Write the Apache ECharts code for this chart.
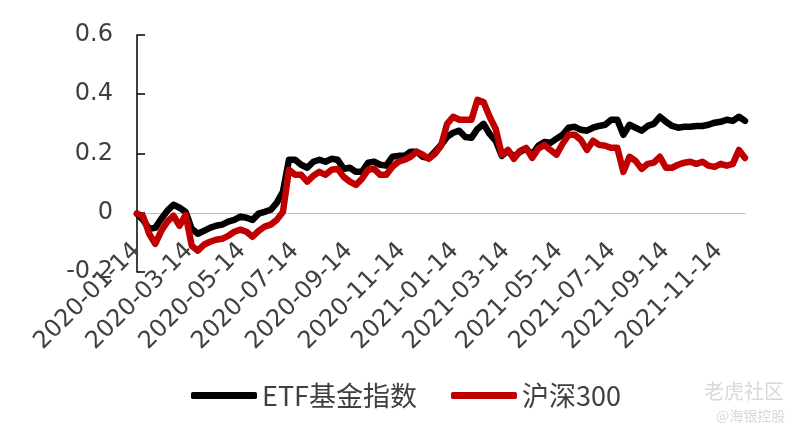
<!DOCTYPE html>
<html><head><meta charset="utf-8">
<script src="https://cdn.jsdelivr.net/npm/echarts@6/dist/echarts.min.js"></script>
<style>html,body{margin:0;padding:0;background:#fff}#c{width:800px;height:436px}</style>
</head><body><div id="c"></div>
<script>
const dates = [
'2020-01-14','2020-01-21','2020-01-28','2020-02-04','2020-02-11','2020-02-18','2020-02-25','2020-03-03','2020-03-10','2020-03-17',
'2020-03-24','2020-03-31','2020-04-07','2020-04-14','2020-04-21','2020-04-28','2020-05-05','2020-05-12','2020-05-19','2020-05-26',
'2020-06-02','2020-06-09','2020-06-16','2020-06-23','2020-06-30','2020-07-07','2020-07-14','2020-07-21','2020-07-28','2020-08-04',
'2020-08-11','2020-08-18','2020-08-25','2020-09-01','2020-09-08','2020-09-15','2020-09-22','2020-09-29','2020-10-06','2020-10-13',
'2020-10-20','2020-10-27','2020-11-03','2020-11-10','2020-11-17','2020-11-24','2020-12-01','2020-12-08','2020-12-15','2020-12-22',
'2020-12-29','2021-01-05','2021-01-12','2021-01-19','2021-01-26','2021-02-02','2021-02-09','2021-02-16','2021-02-23','2021-03-02',
'2021-03-09','2021-03-16','2021-03-23','2021-03-30','2021-04-06','2021-04-13','2021-04-20','2021-04-27','2021-05-04','2021-05-11',
'2021-05-18','2021-05-25','2021-06-01','2021-06-08','2021-06-15','2021-06-22','2021-06-29','2021-07-06','2021-07-13','2021-07-20',
'2021-07-27','2021-08-03','2021-08-10','2021-08-17','2021-08-24','2021-08-31','2021-09-07','2021-09-14','2021-09-21','2021-09-28',
'2021-10-05','2021-10-12','2021-10-19','2021-10-26','2021-11-02','2021-11-09','2021-11-16','2021-11-23','2021-11-30','2021-12-07',
'2021-12-14'
];
const etfIndex = [
-0.003,-0.024,-0.054,-0.051,-0.020,0.007,0.027,0.017,0.003,-0.054,
-0.071,-0.061,-0.051,-0.044,-0.040,-0.030,-0.024,-0.013,-0.017,-0.024,
-0.003,0.003,0.010,0.034,0.071,0.179,0.179,0.162,0.152,0.172,
0.179,0.172,0.182,0.179,0.148,0.152,0.138,0.138,0.169,0.172,
0.162,0.159,0.189,0.192,0.192,0.206,0.206,0.189,0.185,0.206,
0.229,0.256,0.270,0.277,0.256,0.253,0.283,0.300,0.266,0.243,
0.192,0.209,0.189,0.206,0.216,0.196,0.226,0.239,0.236,0.250,
0.263,0.287,0.290,0.280,0.277,0.287,0.293,0.297,0.314,0.314,
0.263,0.297,0.287,0.277,0.293,0.300,0.324,0.307,0.293,0.287,
0.290,0.290,0.293,0.293,0.297,0.304,0.307,0.314,0.310,0.324,
0.310
];
const hs300 = [
-0.003,-0.012,-0.071,-0.105,-0.061,-0.030,-0.010,-0.044,-0.007,-0.111,
-0.128,-0.108,-0.098,-0.091,-0.088,-0.078,-0.064,-0.057,-0.064,-0.081,
-0.061,-0.047,-0.040,-0.024,0.003,0.145,0.128,0.128,0.105,0.125,
0.138,0.128,0.145,0.148,0.121,0.105,0.094,0.115,0.145,0.148,
0.128,0.128,0.155,0.172,0.179,0.189,0.206,0.196,0.182,0.199,
0.226,0.300,0.324,0.314,0.314,0.314,0.381,0.374,0.324,0.283,
0.196,0.212,0.182,0.209,0.219,0.185,0.216,0.229,0.212,0.196,
0.233,0.263,0.263,0.246,0.212,0.243,0.229,0.226,0.219,0.219,
0.138,0.189,0.175,0.148,0.165,0.169,0.189,0.152,0.152,0.162,
0.169,0.172,0.165,0.172,0.159,0.155,0.165,0.159,0.165,0.212,
0.185
];
const tickLabels = ['2020-01-14','2020-03-14','2020-05-14','2020-07-14','2020-09-14','2020-11-14',
'2021-01-14','2021-03-14','2021-05-14','2021-07-14','2021-09-14','2021-11-14'];
const seriesNames = ['ETF基金指数','沪深300'];
const yTicks = [-0.2, 0, 0.2, 0.4, 0.6];

function dayTs(s){const p=s.split('-');return Date.UTC(+p[0],+p[1]-1,+p[2]);}
function fmtDay(v){const d=new Date(v);const m=d.getUTCMonth()+1, dd=d.getUTCDate();
  return d.getUTCFullYear()+'-'+(m<10?'0':'')+m+'-'+(dd<10?'0':'')+dd;}

const chart = echarts.init(document.getElementById('c'), null, {renderer:'canvas'});
chart.setOption({
  animation:false,
  backgroundColor:'#ffffff',
  grid:{left:137,right:55,top:35,bottom:164,containLabel:false},
  legend:{
    left:186, top:377, icon:'roundRect', itemWidth:66, itemHeight:7, itemGap:34,
    textStyle:{fontFamily:'Noto Sans CJK SC', fontSize:27, color:'#404040'},
    data:seriesNames
  },
  xAxis:{
    type:'value',
    min:dayTs(dates[0]), max:dayTs(dates[dates.length-1]),
    axisLine:{onZero:true, lineStyle:{color:'#bfbfbf', width:1}},
    axisTick:{show:false},
    splitLine:{show:false},
    axisLabel:{
      customValues: tickLabels.map(dayTs),
      rotate:45, margin:-25, fontFamily:'DejaVu Sans', fontSize:24, color:'#404040',
      formatter:function(v){return fmtDay(v);}
    }
  },
  yAxis:{
    type:'value', min:yTicks[0], max:yTicks[yTicks.length-1], interval:0.2,
    axisLine:{show:true, lineStyle:{color:'#000000', width:1.5}},
    axisTick:{show:true, inside:true, length:8, lineStyle:{color:'#000000', width:1.5}},
    splitLine:{show:false},
    axisLabel:{margin:24, fontFamily:'DejaVu Sans', fontSize:24, color:'#404040',
      formatter:function(v){return String(Math.round(v*10)/10);}}
  },
  series:[
    {name:seriesNames[0], type:'line', showSymbol:false, symbol:'none', color:'#000000',
     lineStyle:{width:6.5, color:'#000000', cap:'round', join:'round'},
     data:dates.map((d,i)=>[dayTs(d), etfIndex[i]])},
    {name:seriesNames[1], type:'line', showSymbol:false, symbol:'none', color:'#c00000',
     lineStyle:{width:6.5, color:'#c00000', cap:'round', join:'round'},
     data:dates.map((d,i)=>[dayTs(d), hs300[i]])}
  ],
  graphic:[
    {type:'text', left:704, top:381, style:{text:'老虎社区', fontFamily:'Noto Sans CJK SC', fontSize:20, fill:'#d9d9d9'}},
    {type:'text', left:716, top:409, style:{text:'@海银控股', fontFamily:'Noto Sans CJK SC', fontSize:14, fill:'#d9d9d9'}}
  ]
});
</script>
</body></html>
